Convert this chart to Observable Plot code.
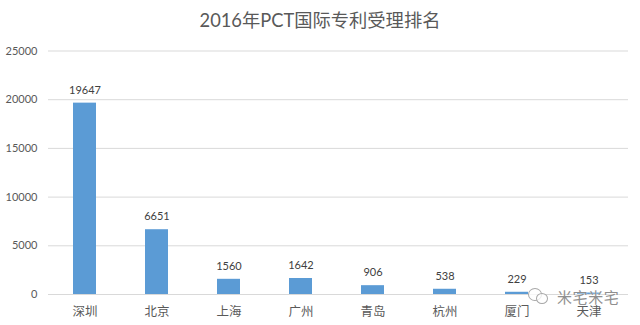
<!DOCTYPE html>
<html><head><meta charset="utf-8">
<script src="https://cdn.jsdelivr.net/npm/d3@7"></script>
<script src="https://cdn.jsdelivr.net/npm/@observablehq/plot@0.6"></script>
<style>
html,body{margin:0;padding:0;background:#fff;overflow:hidden}
#wrap{position:relative;width:640px;height:325px;font-family:Lato,"Noto Sans CJK SC",sans-serif}
#title{height:38px;line-height:40px;text-align:center;font-size:18.3px;color:#595959;white-space:nowrap}
#mark{position:absolute;left:557px;top:288px;font-size:15px;line-height:18px;color:#8f8f8f;letter-spacing:.6px;white-space:nowrap;text-shadow:0 0 2px #fff}
.bubble{position:absolute;border:1px solid #a8a8a8;border-radius:50%;background:rgba(255,255,255,.75);box-sizing:border-box}
svg{display:block}
</style></head><body>
<div id="wrap"><div id="title">2016年PCT国际专利受理排名</div><div id="chart"></div>
<div class="bubble" style="left:528px;top:288px;width:14px;height:13px"></div>
<div class="bubble" style="left:536px;top:293px;width:12px;height:11px"></div>
<div id="mark">米宅米宅</div></div>
<script>
const cities = ["深圳","北京","上海","广州","青岛","杭州","厦门","天津"];
const counts = [19647,6651,1560,1642,906,538,229,153];
const yTicks = [0,5000,10000,15000,20000,25000];
const rows = cities.map((city,i)=>({city,count:counts[i]}));
const font = 'Lato,"Noto Sans CJK SC",sans-serif';
const plot = Plot.plot({
  width:640,height:287,
  marginTop:12.5,marginBottom:31,marginLeft:48,marginRight:12,
  style:{fontFamily:font,fontSize:"11px",color:"#595959",background:"#fff"},
  x:{domain:cities,label:null,paddingInner:0.68,paddingOuter:0.34,align:0.48},
  y:{domain:[0,25000],label:null,ticks:yTicks},
  marks:[
    Plot.gridY(yTicks,{stroke:"#d9d9d9",strokeOpacity:1,strokeWidth:1}),
    Plot.barY(rows,{x:"city",y:"count",fill:"#5b9bd5"}),
    Plot.axisY(yTicks,{tickSize:0,tickPadding:11,tickFormat:d=>String(d),label:null,fill:"#595959",fontSize:11}),
    Plot.axisX({tickSize:0,tickPadding:13,label:null,fill:"#595959",fontSize:12.5}),
    Plot.text(rows,{x:"city",y:"count",text:d=>String(d.count),dy:-13,fill:"#404040",fontSize:11})
  ]
});
document.getElementById("chart").append(plot);
</script></body></html>
